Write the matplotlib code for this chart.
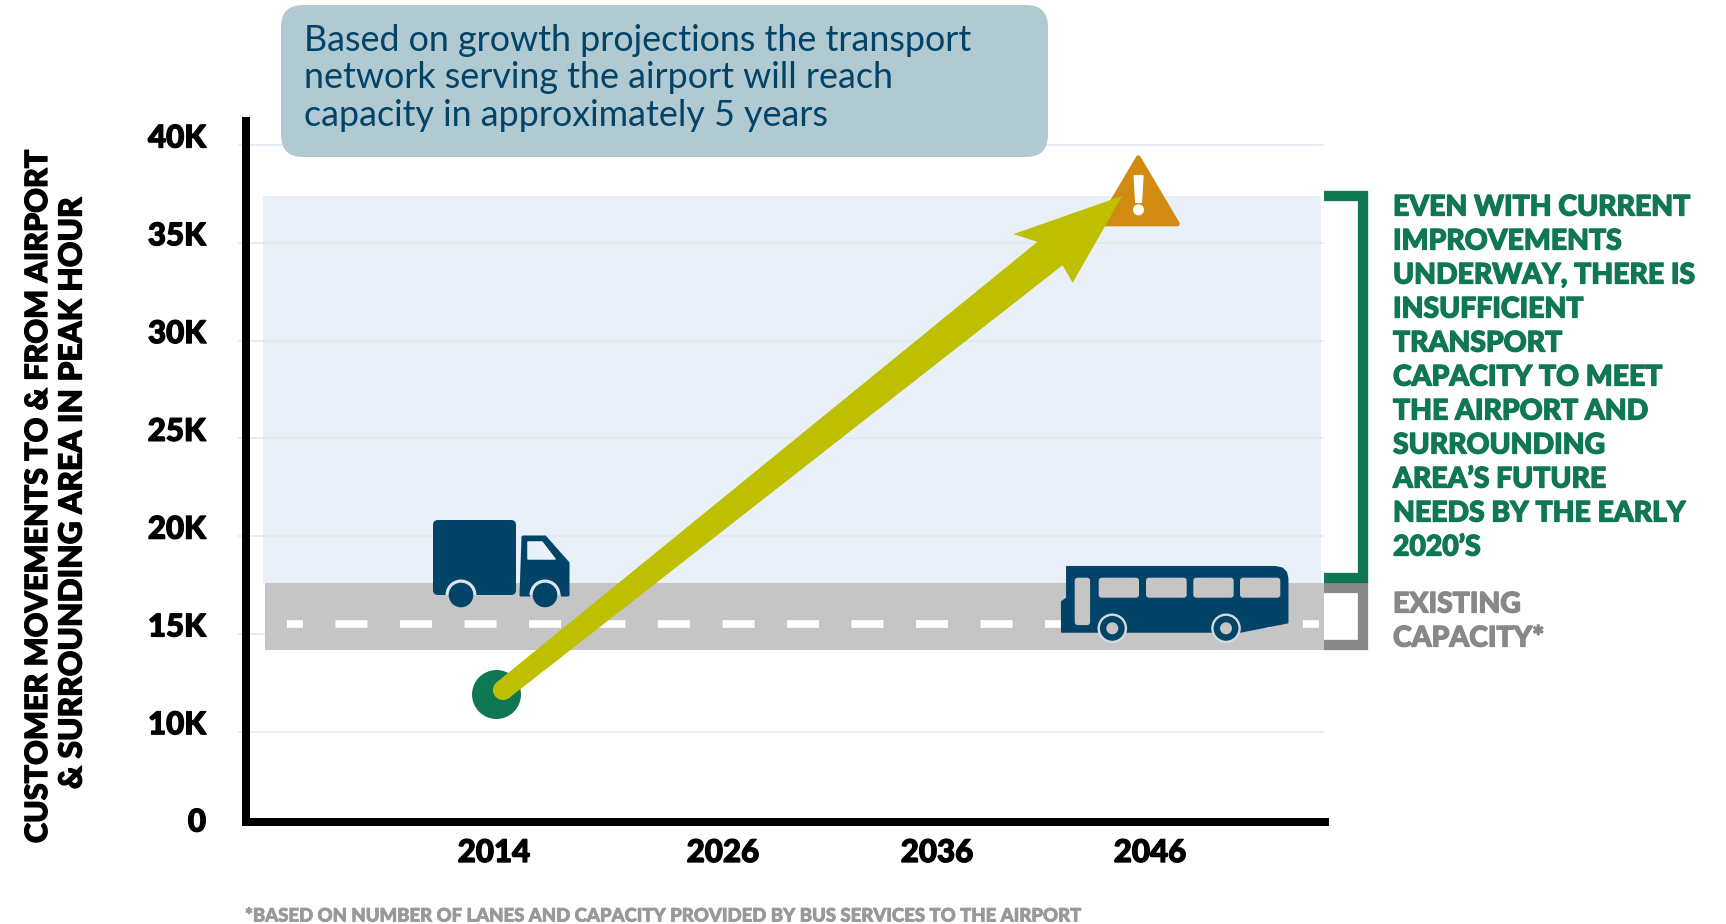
import numpy as np
import matplotlib
matplotlib.use("Agg")
import matplotlib.pyplot as plt
import matplotlib.patheffects as pe
from matplotlib.patches import Circle, FancyBboxPatch, Polygon, Rectangle, Wedge
from matplotlib.transforms import Affine2D

W, H = 1726, 924

# chart values
YEARS = [2014, 2026, 2036, 2046]
Y_TICKS = [0, 10000, 15000, 20000, 25000, 30000, 35000, 40000]
Y_TICK_LABELS = ["0", "10K", "15K", "20K", "25K", "30K", "35K", "40K"]
GRID_VALUES = [10000, 15000, 20000, 25000, 30000, 35000, 40000]
CURRENT_YEAR = 2014.1
CURRENT_VALUE = 11950
ARROW_START = (2014.47, 12130)
ARROW_END = (2044.7, 37400)
ROAD_VALUES = (14170, 17620)
ROAD_MARKING = 15500
PROJECTED_VALUE = 37400
CALLOUT_LINES = [
    "Based on growth projections the transport",
    "network serving the airport will reach",
    "capacity in approximately 5 years",
]
GREEN_LINES = [
    "EVEN WITH CURRENT",
    "IMPROVEMENTS",
    "UNDERWAY, THERE IS",
    "INSUFFICIENT",
    "TRANSPORT",
    "CAPACITY TO MEET",
    "THE AIRPORT AND",
    "SURROUNDING",
    "AREA’S FUTURE",
    "NEEDS BY THE EARLY",
    "2020’S",
]
GREY_LINES = ["EXISTING", "CAPACITY*"]
FOOTNOTE = "*BASED ON NUMBER OF LANES AND CAPACITY PROVIDED BY BUS SERVICES TO THE AIRPORT"

GREEN = "#0F7853"
OLIVE = "#BDBF00"
ORANGE = "#D18B12"
NAVY = "#024368"
BAND = "#E9F0F8"
ROAD = "#C5C5C5"
GRID = "#E3E7EE"
GREY = "#888888"

HEAVY = {"family": ["Lato", "DejaVu Sans"], "weight": 900}

plt.rcParams["lines.scale_dashes"] = False


def px(value):
    # picture pixels to points
    return value * 0.72


def thicken(text, width=1.3):
    # the source lettering is heavier than Lato Black
    text.set_path_effects([pe.withStroke(linewidth=px(width), foreground=text.get_color())])
    return text


# axes are not linear in the source picture, the spacing is kept with anchors
x_from = [2001, 2014, 2026, 2036, 2046, 2054.2]
x_to = [245.5, 494, 723, 937, 1150, 1325]
y_from = [0, 10000, 40000, 41230]
y_to = [0, 90.3, 677, 701]

fig = plt.figure(figsize=(W / 100, H / 100), dpi=100)
ax = fig.add_axes([245.5 / W, 1 - 822 / H, (1325 - 245.5) / W, (822 - 121) / H])
ax.set_xscale(
    "function",
    functions=(lambda v: np.interp(v, x_from, x_to), lambda v: np.interp(v, x_to, x_from)),
)
ax.set_yscale(
    "function",
    functions=(lambda v: np.interp(v, y_from, y_to), lambda v: np.interp(v, y_to, y_from)),
)
ax.set_xlim(x_from[0], x_from[-1])
ax.set_ylim(y_from[0], y_from[-1])
ax.minorticks_off()

for side in ["top", "right"]:
    ax.spines[side].set_visible(False)
for side in ["left", "bottom"]:
    ax.spines[side].set_linewidth(px(8))
    ax.spines[side].set_capstyle("projecting")
    ax.spines[side].set_zorder(8)

# background layers
ax.fill_between([2001.9, 2054.0], ROAD_VALUES[1], PROJECTED_VALUE, color=BAND, lw=0, zorder=1)
ax.hlines(GRID_VALUES, 2001, 2054.15, color=GRID, lw=px(1.6), zorder=1.5)
ax.fill_between([2002.0, 2054.15], ROAD_VALUES[0], ROAD_VALUES[1], color=ROAD, lw=0, zorder=2)
ax.plot(
    [2003.15, 2053.93],
    [ROAD_MARKING, ROAD_MARKING],
    color="white",
    lw=px(7.7),
    linestyle=(px(16), (px(32), px(32.5))),
    dash_capstyle="butt",
    zorder=2.5,
)

# ticks
ax.set_xticks(YEARS)
ax.set_xticklabels([str(y) for y in YEARS], fontsize=22.5, va="top", **HEAVY)
ax.tick_params(axis="x", length=0, pad=px(17))
ax.set_yticks(Y_TICKS)
ax.set_yticklabels(Y_TICK_LABELS, fontsize=22.5, **HEAVY)
ax.tick_params(axis="y", length=px(8.5), width=px(1.6), color=GRID, pad=px(31))
ax.minorticks_off()
ax.yaxis.get_major_ticks()[0].tick1line.set_visible(False)
for value, label in zip(Y_TICKS, ax.get_yticklabels()):
    shift = 2 if value == 0 else 9
    label.set_transform(label.get_transform() + Affine2D().translate(0, shift))
    thicken(label)
for label in ax.get_xticklabels():
    thicken(label)

# picture pixel coordinates, origin top left
PIX = Affine2D().scale(1, -1).translate(0, H)


def to_pix(x, y):
    disp = ax.transData.transform((x, y))
    return np.array([disp[0], H - disp[1]])


def add(patch, zorder):
    patch.set_zorder(zorder)
    patch.set_clip_on(False)
    ax.add_artist(patch)
    return patch


# truck, local origin at its rear wheel
t = Affine2D().translate(461, 595) + PIX
add(FancyBboxPatch((-25, -72), 77, 69, boxstyle="round,pad=3,rounding_size=5", fc=NAVY, ec="none", transform=t), 3)
add(Polygon([[62, -58], [84, -58], [107, -32], [107, 0], [60, 0]], closed=True, fc=NAVY, ec=NAVY, lw=px(3), joinstyle="round", transform=t), 3)
add(Polygon([[67, -53], [81, -53], [94, -36], [67, -36]], closed=True, fc=BAND, ec=BAND, lw=px(1.5), joinstyle="round", transform=t), 3.1)
for cx in [0, 84]:
    add(Wedge((cx, 0), 15.5, 180, 360, fc="#DDE3E9", ec="none", transform=t), 3.2)
    add(Rectangle((cx - 15.5, 0), 31, 3.5, fc=ROAD, ec="none", transform=t), 3.2)
    add(Circle((cx, 0), 12.3, fc=NAVY, ec="none", transform=t), 3.3)

# bus, local origin at its rear wheel
b = Affine2D().translate(1112.3, 628.3) + PIX
add(Polygon(
    [[-45.5, -61.6], [163, -61.6], [170, -60], [174, -56], [175.4, -50], [175.4, -5.6], [128, 3.7],
     [-50.6, 3.7], [-50.6, -26.6], [-45.5, -30.3]],
    closed=True, fc=NAVY, ec=NAVY, lw=px(1.5), joinstyle="round", transform=b,
), 3)
for x0, x1 in [(-13.6, 26.7), (33.7, 74.4), (81, 121.4), (127.7, 168)]:
    add(FancyBboxPatch((x0 + 2, -48.6), x1 - x0 - 4, 16, boxstyle="round,pad=2,rounding_size=3", fc=ROAD, ec="none", transform=b), 3.1)
add(FancyBboxPatch((-35.6, -48.6), 11.4, 43.4, boxstyle="round,pad=2,rounding_size=3", fc=ROAD, ec="none", transform=b), 3.1)
for cx in [0, 113.7]:
    add(Circle((cx, 0), 14.8, fc="#D5D8DB", ec="none", transform=b), 3.2)
    add(Circle((cx, 0), 12.4, fc=NAVY, ec="none", transform=b), 3.3)
    add(Circle((cx, 0), 6, fc=ROAD, ec="none", transform=b), 3.4)

# warning sign, local origin at the arrow tip
tip = to_pix(*ARROW_END)
w = Affine2D().translate(*tip) + PIX
add(Polygon([[16, -38], [55, 28], [-23, 28]], closed=True, fc=ORANGE, ec=ORANGE, lw=px(5), joinstyle="round", transform=w), 4)
add(Polygon([[12, -20], [20.6, -20], [19, 6.5], [13.5, 6.5]], closed=True, fc="white", ec="white", lw=px(1.5), joinstyle="round", transform=w), 4.1)
add(Circle((16.2, 14), 5.5, fc="white", ec="none", transform=w), 4.1)

# current value
ax.scatter([CURRENT_YEAR], [CURRENT_VALUE], s=px(49) ** 2, color=GREEN, lw=0, zorder=5, clip_on=False)

# tapered arrow between the two values, offsets in pixels along and across it
tail = to_pix(*ARROW_START)
u = (tip - tail) / np.linalg.norm(tip - tail)
n = np.array([-u[1], u[0]])
outline = [
    tail + n * 10,
    tip - u * 90 + n * 17,
    tip - u * 93 + n * 37,
    tip,
    tip - u * 109 - n * 38,
    tip - u * 95 - n * 17,
    tail - n * 10,
]
add(Polygon(outline, closed=True, fc=OLIVE, ec="none", transform=PIX), 6)
add(Circle(tail, 10, fc=OLIVE, ec="none", transform=PIX), 6)

# capacity brackets
top = to_pix(2054.2, PROJECTED_VALUE)[1]
mid = to_pix(2054.2, ROAD_VALUES[1])[1]
low = to_pix(2054.2, ROAD_VALUES[0])[1]
ax.plot([1324, 1363, 1363, 1324], [top, top, mid - 5, mid - 5], color=GREEN, lw=px(10.3),
        solid_joinstyle="miter", solid_capstyle="butt", transform=PIX, clip_on=False, zorder=3)
ax.plot([1324, 1363, 1363, 1324], [mid + 5, mid + 5, low - 5, low - 5], color=GREY, lw=px(10.3),
        solid_joinstyle="miter", solid_capstyle="butt", transform=PIX, clip_on=False, zorder=2.9)

# callout
add(FancyBboxPatch((301, 25), 727, 112, boxstyle="round,pad=20,rounding_size=22", fc="#B1CAD1", ec="none", transform=PIX), 7)
for i, line in enumerate(CALLOUT_LINES):
    ax.text(304, 51 + 37.5 * i, line, fontsize=25.8, color=NAVY, family=["Lato", "DejaVu Sans"],
            va="baseline", ha="left", transform=PIX, clip_on=False, zorder=7.5)

# side notes
for i, line in enumerate(GREEN_LINES):
    thicken(ax.text(1393, 205 + 34 * i, line, fontsize=20.4, color=GREEN, va="center_baseline", ha="left",
                    transform=PIX, clip_on=False, **HEAVY))
for i, line in enumerate(GREY_LINES):
    thicken(ax.text(1393, 602 + 34 * i, line, fontsize=20.4, color=GREY, va="center_baseline", ha="left",
                    transform=PIX, clip_on=False, **HEAVY))

# axis title and footnote
thicken(fig.text(38 / W, 1 - 497 / H, "CUSTOMER MOVEMENTS TO & FROM AIRPORT", rotation=90, fontsize=22,
                 color="black", ha="center", va="center", **HEAVY))
thicken(fig.text(72 / W, 1 - 494 / H, "& SURROUNDING AREA IN PEAK HOUR", rotation=90, fontsize=22.8,
                 color="black", ha="center", va="center", **HEAVY))
thicken(fig.text(245 / W, 1 - 916 / H, FOOTNOTE, fontsize=13.35, color="#999999", ha="left", va="center", **HEAVY), 0.8)

fig.savefig("out.png", dpi=100)
